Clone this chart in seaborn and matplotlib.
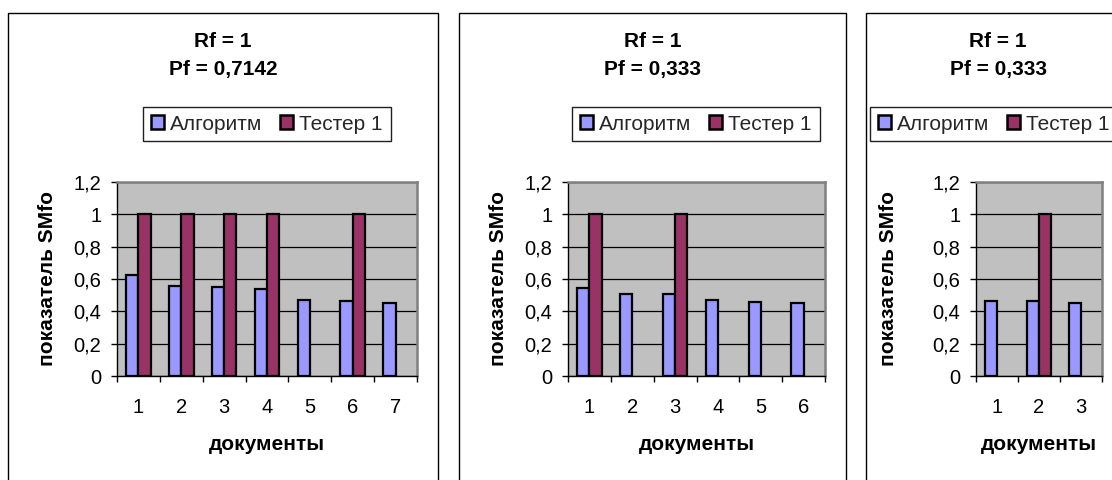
import matplotlib
matplotlib.use("Agg")
import matplotlib.pyplot as plt
from matplotlib.patches import Rectangle, Patch
from matplotlib.ticker import FixedLocator
import seaborn as sns
import pandas as pd

sns.set_theme(style="white")
plt.rcParams["font.family"] = ["Liberation Sans", "DejaVu Sans"]

# ---- data ---------------------------------------------------------------
series_names = ["Алгоритм", "Тестер 1"]
series_colors = ["#9999FF", "#993366"]

docs_1 = [1, 2, 3, 4, 5, 6, 7]
algo_1 = [0.627, 0.556, 0.550, 0.536, 0.472, 0.464, 0.452]
tester_1 = [1, 1, 1, 1, 0, 1, 0]
rf_1, pf_1 = "1", "0,7142"

docs_2 = [1, 2, 3, 4, 5, 6]
algo_2 = [0.544, 0.507, 0.507, 0.472, 0.456, 0.452]
tester_2 = [1, 0, 1, 0, 0, 0]
rf_2, pf_2 = "1", "0,333"

docs_3 = [1, 2, 3]
algo_3 = [0.466, 0.466, 0.449]
tester_3 = [0, 1, 0]
rf_3, pf_3 = "1", "0,333"

y_ticks = [0, 0.2, 0.4, 0.6, 0.8, 1.0, 1.2]
y_tick_labels = ["0", "0,2", "0,4", "0,6", "0,8", "1", "1,2"]
x_title = "документы"
y_title = "показатель SMfo"

# ---- layout (pixels) ----------------------------------------------------
W, H = 1112, 480
FS = 15
TICK_FS = 14.5


def fx(x):
    return x / W


def fy(y):
    return 1 - y / H


panels = [
    dict(docs=docs_1, algo=algo_1, tester=tester_1, rf=rf_1, pf=pf_1,
         border=(8, 438), plot=(117, 417), title_x=223, legend_x=267, ylabel_x=48),
    dict(docs=docs_2, algo=algo_2, tester=tester_2, rf=rf_2, pf=pf_2,
         border=(459, 846), plot=(568, 825), title_x=652.5, legend_x=696, ylabel_x=499),
    dict(docs=docs_3, algo=algo_3, tester=tester_3, rf=rf_3, pf=pf_3,
         border=(866, 1130), plot=(976, 1102), title_x=998, legend_x=994, ylabel_x=889),
]
PLOT_TOP, PLOT_BOTTOM = 182, 376

fig = plt.figure(figsize=(W / 100, H / 100), dpi=100)
fig.patch.set_facecolor("white")

for p in panels:
    bl, br = p["border"]
    fig.add_artist(Rectangle((fx(bl), fy(495)), fx(br) - fx(bl), fy(13) - fy(495),
                             transform=fig.transFigure, fill=False,
                             edgecolor="black", linewidth=1.0))

    pl, pr = p["plot"]
    ax = fig.add_axes([fx(pl), fy(PLOT_BOTTOM), (pr - pl) / W,
                       (PLOT_BOTTOM - PLOT_TOP) / H])
    n = len(p["docs"])
    df = pd.DataFrame({
        "документ": [str(d) for d in p["docs"]] * 2,
        "серия": [series_names[0]] * n + [series_names[1]] * n,
        "значение": list(p["algo"]) + list(p["tester"]),
    })
    sns.barplot(data=df, x="документ", y="значение", hue="серия",
                hue_order=series_names, palette=series_colors,
                width=2 / 3.5, saturation=1, edgecolor="black",
                linewidth=1.6, errorbar=None, legend=False, ax=ax)
    for patch in ax.patches:
        if patch.get_height() == 0:
            patch.set_visible(False)

    ax.set_facecolor("#C0C0C0")
    ax.set_ylim(0, 1.2)
    ax.set_xlim(-0.5, n - 0.5)
    ax.set_yticks(y_ticks)
    ax.set_yticklabels(y_tick_labels)
    ax.yaxis.grid(True, color="black", linewidth=0.9)
    ax.xaxis.grid(False)
    ax.set_axisbelow(True)

    for side in ("top", "right"):
        ax.spines[side].set_color("#808080")
        ax.spines[side].set_linewidth(1.8)
    for side in ("left", "bottom"):
        ax.spines[side].set_color("black")
        ax.spines[side].set_linewidth(1.0)

    ax.xaxis.set_minor_locator(FixedLocator([i - 0.5 for i in range(n + 1)]))
    ax.tick_params(axis="x", which="major", length=0, pad=16, labelsize=TICK_FS,
                   labelcolor="black")
    ax.tick_params(axis="x", which="minor", bottom=True, length=4.3,
                   width=1, color="black", direction="out")
    ax.tick_params(axis="y", which="major", left=True, length=4.3, width=1,
                   color="black", direction="out", pad=7, labelsize=TICK_FS,
                   labelcolor="black")

    ax.set_xlabel(x_title, fontsize=FS, fontweight="bold", color="black")
    ax.xaxis.label.set_va("center")
    ax.xaxis.set_label_coords(fx((pl + pr) / 2), fy(445), transform=fig.transFigure)
    ax.set_ylabel(y_title, fontsize=FS, fontweight="bold", color="black")
    ax.yaxis.label.set_va("center")
    ax.yaxis.set_label_coords(fx(p["ylabel_x"]), fy(279), transform=fig.transFigure)

    handles = [Patch(facecolor=c, edgecolor="black", linewidth=1.8)
               for c in series_colors]
    leg = ax.legend(handles, series_names, loc="center",
                    bbox_to_anchor=(fx(p["legend_x"]), fy(124)),
                    bbox_transform=fig.transFigure, ncol=2, frameon=True,
                    fancybox=False, shadow=False, fontsize=FS,
                    handlelength=0.62, handleheight=0.62, handletextpad=0.3,
                    columnspacing=0.85, borderpad=0.38, borderaxespad=0)
    frame = leg.get_frame()
    frame.set_edgecolor("#202020")
    frame.set_linewidth(1.0)
    frame.set_facecolor("white")
    frame.set_alpha(1)

    fig.text(fx(p["title_x"]), fy(41.7), f"Rf = {p['rf']}", ha="center",
             va="center", fontsize=FS, fontweight="bold", color="black")
    fig.text(fx(p["title_x"]), fy(70), f"Pf = {p['pf']}", ha="center",
             va="center", fontsize=FS, fontweight="bold", color="black")

fig.savefig("out.png", dpi=100)
